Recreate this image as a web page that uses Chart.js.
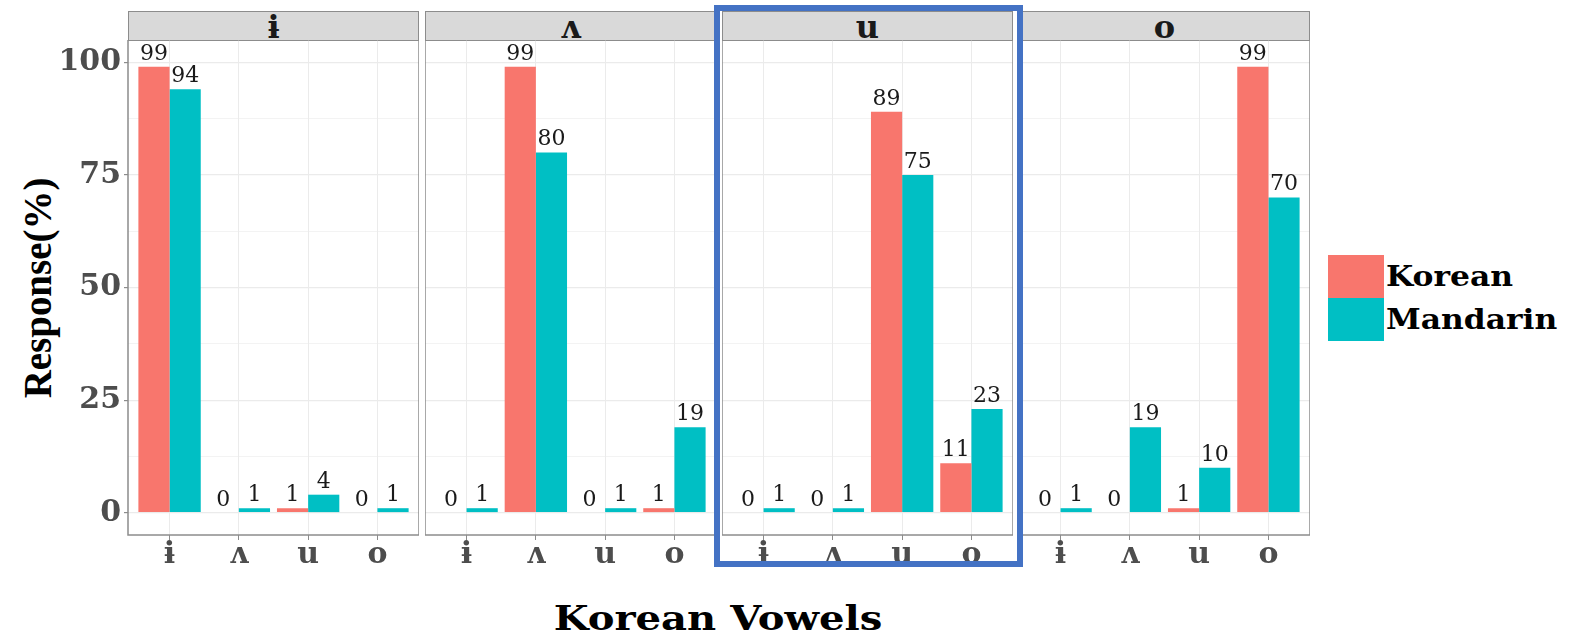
<!DOCTYPE html>
<html>
<head>
<meta charset="utf-8">
<script src="https://cdn.jsdelivr.net/npm/chart.js@4.4.0/dist/chart.umd.min.js"></script>
<style>
  body { margin: 0; background: #fff; width: 1572px; height: 637px; overflow: hidden; position: relative; font-family: "DejaVu Serif", serif; }
  canvas { position: absolute; top: 40px; }
  .strip { position: absolute; top: 11px; height: 28px; background: #D9D9D9; border: 1px solid #8C8C8C; text-align: center;
           font: bold 32px "DejaVu Serif"; line-height: 30px; color: #1A1A1A; box-sizing: content-box; }
  .ytitle { position: absolute; left: 37px; top: 288px; transform: translate(-50%, -50%) rotate(-90deg) scaleX(0.95);
            font: bold 41px "Liberation Serif"; line-height: 1; white-space: nowrap; color: #000; }
  .xtitle { position: absolute; left: 718px; top: 601px; transform: translateX(-50%) scaleX(1.18); font: bold 34px "DejaVu Serif";
            line-height: 1; white-space: nowrap; color: #000; }
  .hilite { position: absolute; left: 714px; top: 5px; width: 297px; height: 550px; border: 6px solid #4472C4; }
  .key { position: absolute; left: 1328px; width: 56px; height: 43px; }
  .keytext { position: absolute; left: 1386px; font: bold 28px "DejaVu Serif"; line-height: 1; color: #000;
             transform: scaleX(1.12); transform-origin: left center; white-space: nowrap; }
</style>
</head>
<body>
<div class="ytitle">Response(%)</div>
<div class="xtitle">Korean Vowels</div>
<div class="key" style="top:255px;background:#F8766D"></div>
<div class="key" style="top:298px;background:#00BFC4"></div>
<div class="keytext" style="top:263px">Korean</div>
<div class="keytext" style="top:306px">Mandarin</div>
<script>
const vowels = ['ɨ', 'ʌ', 'u', 'o'];
const seriesNames = ['Korean', 'Mandarin'];
const seriesColors = ['#F8766D', '#00BFC4'];
const yTicks = [0, 25, 50, 75, 100];

// response % per panel (stimulus vowel) for each response vowel
const korean_i = [99, 0, 1, 0];
const mandarin_i = [94, 1, 4, 1];
const korean_v = [0, 99, 0, 1];
const mandarin_v = [1, 80, 1, 19];
const korean_u = [0, 0, 89, 11];
const mandarin_u = [1, 1, 75, 23];
const korean_o = [0, 0, 1, 99];
const mandarin_o = [1, 19, 10, 70];

const panels = [
  [korean_i, mandarin_i],
  [korean_v, mandarin_v],
  [korean_u, mandarin_u],
  [korean_o, mandarin_o]
];

const panelLeft = [128, 425, 722, 1019];
const panelWidth = 291;
const yAxisWidth = 128;

const minorTicks = yTicks.slice(0, -1).map(v => v + 12.5);
const allYTicks = yTicks.concat(minorTicks).sort((a, b) => a - b);

const panelPlugin = {
  id: 'panelBox',
  afterDatasetsDraw(chart) {
    const ctx = chart.ctx;
    const a = chart.chartArea;
    ctx.save();
    ctx.font = '22px "DejaVu Serif"';
    ctx.fillStyle = '#1A1A1A';
    ctx.textAlign = 'center';
    ctx.textBaseline = 'alphabetic';
    chart.data.datasets.forEach((ds, di) => {
      chart.getDatasetMeta(di).data.forEach((bar, i) => {
        ctx.fillText(ds.data[i].y, bar.x, bar.y - 7);
      });
    });
    ctx.strokeStyle = '#8C8C8C';
    ctx.lineWidth = 1.5;
    ctx.strokeRect(a.left, a.top, a.width, a.height);
    ctx.restore();
  }
};

panels.forEach((series, p) => {
  const strip = document.createElement('div');
  strip.className = 'strip';
  strip.style.left = panelLeft[p] + 'px';
  strip.style.width = (panelWidth - 2) + 'px';
  strip.textContent = vowels[p];
  document.body.appendChild(strip);

  const first = p === 0;
  const canvas = document.createElement('canvas');
  const w = panelWidth + (first ? yAxisWidth : 0);
  canvas.width = w;
  canvas.height = 535;
  canvas.style.left = (panelLeft[p] - (first ? yAxisWidth : 0)) + 'px';
  document.body.appendChild(canvas);

  new Chart(canvas, {
    type: 'bar',
    data: {
      datasets: series.map((vals, s) => ({
        label: seriesNames[s],
        backgroundColor: seriesColors[s],
        data: vals.map((v, i) => ({ x: i + 1, y: v })),
        categoryPercentage: 0.9,
        barPercentage: 1.0
      }))
    },
    options: {
      responsive: false,
      animation: false,
      devicePixelRatio: 1,
      layout: { padding: 0 },
      plugins: { legend: { display: false }, tooltip: { enabled: false } },
      scales: {
        x: {
          type: 'linear',
          offset: false,
          min: 0.4,
          max: 4.6,
          afterBuildTicks: s => { s.ticks = vowels.map((v, i) => ({ value: i + 1 })); },
          afterFit: s => { s.height = 40; s.paddingLeft = 0; s.paddingRight = 0; },
          grid: { offset: false, color: '#EBEBEB', tickColor: '#8C8C8C', tickLength: 5, lineWidth: 1 },
          border: { display: false },
          ticks: {
            autoSkip: false,
            maxRotation: 0,
            padding: -3,
            color: '#4D4D4D',
            font: { family: 'DejaVu Serif', size: 30, weight: 'bold' },
            callback: v => vowels[Math.round(v) - 1]
          }
        },
        y: {
          min: -4.95,
          max: 104.95,
          afterBuildTicks: s => { s.ticks = allYTicks.map(v => ({ value: v })); },
          afterFit: s => { s.width = first ? yAxisWidth : 0; s.paddingTop = 0; s.paddingBottom = 0; },
          grid: {
            color: '#EBEBEB',
            lineWidth: c => (c.tick && yTicks.includes(c.tick.value)) ? 1.2 : 0.6,
            drawTicks: first,
            tickLength: 4,
            tickColor: c => (c.tick && yTicks.includes(c.tick.value)) ? '#8C8C8C' : 'rgba(0,0,0,0)'
          },
          border: { display: false },
          ticks: {
            display: first,
            padding: 3,
            color: '#4D4D4D',
            font: { family: 'DejaVu Serif', size: 30, weight: 'bold' },
            callback: v => yTicks.includes(v) ? v : ''
          }
        }
      }
    },
    plugins: [panelPlugin]
  });
});
</script>
<div class="hilite"></div>
</body>
</html>
